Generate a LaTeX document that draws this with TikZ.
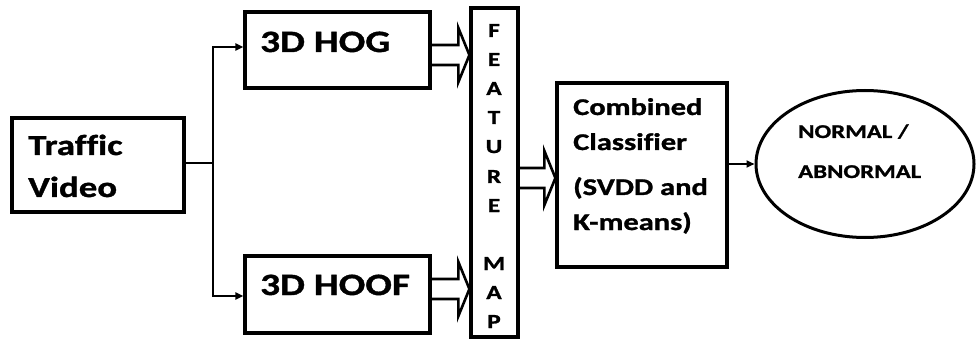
\documentclass[tikz,border=0pt]{standalone}
\usepackage{fontspec}
\newfontfamily\lbl{Carlito}[FakeStretch=1.27,FakeBold=1.2,Ligatures=NoCommon]
\usetikzlibrary{arrows.meta,shapes.geometric,calc}
\begin{document}
\begin{tikzpicture}[x=1pt,y=-1pt,
  box/.style={draw,line width=3.2pt,minimum width=#1,inner sep=0pt},
  txt/.style={anchor=base west,inner sep=0pt,font=\lbl\bfseries},
  ltr/.style={anchor=base,inner sep=0pt,font=\lbl\bfseries\fontsize{20}{20}\selectfont},
  conn/.style={line width=2.2pt,-{Triangle[length=8pt,width=7pt]}},
  fat/.style={line width=2.6pt,line join=miter}]
\useasboundingbox (0,0) rectangle (977,339);
% boxes
\node[box=172pt,minimum height=94pt] (traffic) at (98,165) {};
\node[box=185pt,minimum height=76pt] (hog) at (337.5,50) {};
\node[box=185pt,minimum height=77pt] (hoof) at (337.5,294.5) {};
\node[box=47pt,minimum height=329pt] (feat) at (494.5,172.5) {};
\node[box=170pt,minimum height=184pt] (cls) at (642,175) {};
\node[draw,ellipse,line width=3pt,minimum width=218pt,minimum height=147pt,inner sep=0pt] (out) at (865,164) {};
% texts
\node[txt,font=\lbl\bfseries\fontsize{29}{29}\selectfont] (t1) at (28,155) {Traffic};
\node[txt,font=\lbl\bfseries\fontsize{29}{29}\selectfont] (t2) at (28,197) {Video};
\node[txt,font=\lbl\bfseries\fontsize{31}{31}\selectfont] (t3) at (260,52) {3D HOG};
\node[txt,font=\lbl\bfseries\fontsize{31}{31}\selectfont] (t4) at (260,295) {3D HOOF};
\node[txt,font=\lbl\bfseries\fontsize{24}{24}\selectfont] (c1) at (573,115) {Combined};
\node[txt,font=\lbl\bfseries\fontsize{24}{24}\selectfont] (c2) at (573,150) {Classifier};
\node[txt,font=\lbl\bfseries\fontsize{24}{24}\selectfont] (c3) at (573,195) {(SVDD and};
\node[txt,font=\lbl\bfseries\fontsize{24}{24}\selectfont] (c4) at (573,230) {K-means)};
\node[txt,font=\lbl\bfseries\fontsize{19.5}{19.5}\selectfont] (o1) at (798,138) {NORMAL /};
\node[txt,font=\lbl\bfseries\fontsize{19.5}{19.5}\selectfont] (o2) at (798,178) {ABNORMAL};
\foreach \l/\y [count=\i] in {F/37,E/66,A/95,T/124,U/153,R/183,E/212,M/270,A/299,P/328}
  \node[ltr] (f\i) at (494,\y) {\l};
% thin connectors
\coordinate (split) at (213,163);
\draw[line width=2.2pt] (traffic.east |- split) -- (split);
\draw[conn] (split) |- ($(hog.west)+(0,-3)$);
\draw[conn] (split) |- ($(hoof.west)+(0,1.5)$);
\draw[conn] (cls.east |- out.west) -- (out.west);
% fat hollow arrows
\foreach \src/\dst/\yc in {hog/feat/55,hoof/feat/289,feat/cls/178}{
  \draw[fat] (\src.east |- 0,\yc-10) -- ($(\dst.west |- 0,\yc-10)+(-11,0)$)
    -- ($(\dst.west |- 0,\yc-27)+(-11,0)$) -- (\dst.west |- 0,\yc)
    -- ($(\dst.west |- 0,\yc+27)+(-11,0)$) -- ($(\dst.west |- 0,\yc+10)+(-11,0)$)
    -- (\src.east |- 0,\yc+10);
}
\end{tikzpicture}
\end{document}
